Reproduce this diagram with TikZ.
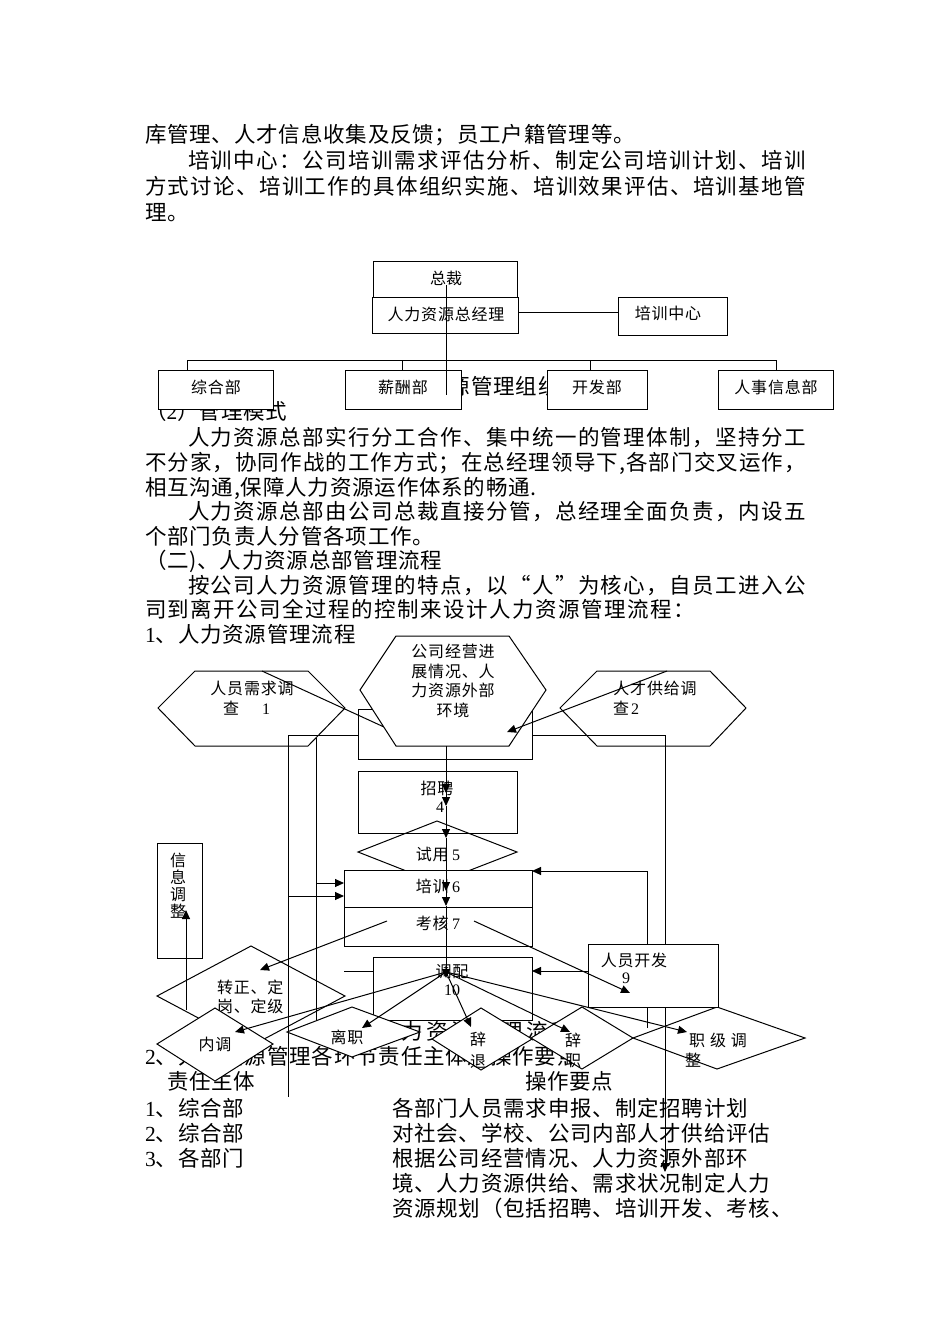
\documentclass[tikz,border=0pt]{standalone}
\usepackage{fontspec}
\setmainfont{Liberation Serif}
\newfontfamily\cjk{Noto Sans CJK SC}
\newfontfamily\lat{Liberation Serif}
\usetikzlibrary{arrows.meta}
\newcommand\cjkglue{\hskip0.8bp plus 1fil\relax}
\def\spacedi#1{#1\sploop}
\def\sploop#1{\ifx\relax#1\else\cjkglue#1\expandafter\sploop\fi}
\newcommand\spaced[1]{\spacedi#1\relax}
\newcommand\bodyf{\cjk\fontsize{21.5bp}{26bp}\selectfont}
\newcommand\smf{\cjk\fontsize{16bp}{20bp}\selectfont}
\newcommand\spreadto[2]{\makebox[#1][s]{#2}}
\begin{document}
\begin{tikzpicture}[x=1bp,y=-1bp,line width=1bp,
  bt/.style={anchor=base west,inner sep=0pt,outer sep=0pt,font=\bodyf},
  lb/.style={anchor=base,inner sep=0pt,outer sep=0pt,font=\smf},
  lbw/.style={anchor=base west,inner sep=0pt,outer sep=0pt,font=\smf},
  bx/.style={draw,line width=1bp,fill=white,inner sep=0pt,outer sep=0pt},
  shp/.style={draw,line width=1bp,fill=white,line join=miter},
  ln/.style={line width=1bp},
  ar/.style={line width=1bp,-{Triangle[length=9bp,width=8bp]}}]
\path[use as bounding box,fill=white] (0,0) rectangle (950,1344);

% ---------- body text ----------
\node[bt] (a1) at (145,143) {\spaced{库管理、人才信息收集及反馈；员工户籍管理等。}};
\node[bt] (a2) at (188,169) {\spreadto{618bp}{\spaced{培训中心：公司培训需求评估分析、制定公司培训计划、培训}}};
\node[bt] (a3) at (145,195) {\spreadto{661bp}{\spaced{方式讨论、培训工作的具体组织实施、培训效果评估、培训基地管}}};
\node[bt] (a4) at (145,221) {\spaced{理。}};
\node[bt] (a5) at (145,419) {（{\lat 2}）\spaced{管理模式}};
\node[bt] (a15) at (382,394) {\spaced{人力资源管理组织结构图}};
\node[bt] (a6) at (188,445) {\spreadto{618bp}{\spaced{人力资源总部实行分工合作、集中统一的管理体制，坚持分工}}};
\node[bt] (a7) at (145,470) {\spreadto{661bp}{\spaced{不分家，协同作战的工作方式；在总经理领导下,各部门交叉运作，}}};
\node[bt] (a8) at (145,495) {\spaced{相互沟通,保障人力资源运作体系的畅通.}};
\node[bt] (a9) at (188,519) {\spreadto{618bp}{\spaced{人力资源总部由公司总裁直接分管，总经理全面负责，内设五}}};
\node[bt] (a10) at (145,544) {\spaced{个部门负责人分管各项工作。}};
\node[bt] (a11) at (145,568) {\spaced{（二)、人力资源总部管理流程}};
\node[bt] (a12) at (188,593) {\spreadto{618bp}{\spaced{按公司人力资源管理的特点，以“人”为核心，自员工进入公}}};
\node[bt] (a13) at (145,617) {\spreadto{550bp}{\spaced{司到离开公司全过程的控制来设计人力资源管理流程：}}};
\node[bt] (a14) at (145,642) {{\lat 1}\spaced{、人力资源管理流程}};
\node[bt] (a16) at (376,1039) {\spreadto{222bp}{\spaced{人力资源管理流程图}}};
\node[bt] (a17) at (145,1064) {{\lat 2}\spaced{、人力资源管理各环节责任主体及操作要点}};
\node[bt] (a18) at (167,1089) {\spaced{责任主体}};
\node[bt] (a19) at (525,1089) {\spaced{操作要点}};
\node[bt] (a20) at (145,1116) {{\lat 1}\spaced{、综合部}};
\node[bt] (a21) at (392,1116) {\spaced{各部门人员需求申报、制定招聘计划}};
\node[bt] (a22) at (145,1141) {{\lat 2}\spaced{、综合部}};
\node[bt] (a23) at (392,1141) {\spaced{对社会、学校、公司内部人才供给评估}};
\node[bt] (a24) at (145,1166) {{\lat 3}\spaced{、各部门}};
\node[bt] (a25) at (392,1166) {\spaced{根据公司经营情况、人力资源外部环}};
\node[bt] (a26) at (392,1191) {\spaced{境、人力资源供给、需求状况制定人力}};
\node[bt] (a27) at (392,1216) {\spaced{资源规划（包括招聘、培训开发、考核、}};

% ---------- organisation chart ----------
\node[bx,minimum width=144bp,minimum height=36bp] (zc) at (445,279) {};
\node[bx,minimum width=146bp,minimum height=36bp] (hr) at (445,315) {};
\node[bx,minimum width=109bp,minimum height=38bp] (pxz) at (672.5,316) {};
\node[bx,minimum width=115bp,minimum height=39bp] (zh) at (215.5,389.5) {};
\node[bx,minimum width=116bp,minimum height=39bp] (xc) at (403,389.5) {};
\node[bx,minimum width=100bp,minimum height=39bp] (kf) at (597,389.5) {};
\node[bx,minimum width=115bp,minimum height=39bp] (rs) at (775.5,389.5) {};
\node[lb] (l1) at (446,284) {总裁};
\node[lb] (l2) at (446,320) {\spaced{人力资源总经理}};
\node[lb] (l3) at (668,319) {\spaced{培训中心}};
\node[lb] (l4) at (216,393) {\spaced{综合部}};
\node[lb] (l5) at (403,393) {\spaced{薪酬部}};
\node[lb] (l6) at (597,393) {\spaced{开发部}};
\node[lb] (l7) at (776,393) {\spaced{人事信息部}};
\coordinate (o1) at (446,285); \coordinate (o2) at (446,395);
\coordinate (o3) at (518,312); \coordinate (o4) at (618,312);
\coordinate (o5) at (187,360); \coordinate (o6) at (776,360);
\coordinate (o7) at (187,370); \coordinate (o8) at (402,360);
\coordinate (o9) at (402,370); \coordinate (o10) at (590,360);
\coordinate (o11) at (590,370); \coordinate (o12) at (776,370);
\draw[ln] (o1) -- (o2);
\draw[ln] (o3) -- (o4);
\draw[ln] (o5) -- (o6);
\draw[ln] (o5) -- (o7);
\draw[ln] (o8) -- (o9);
\draw[ln] (o10) -- (o11);
\draw[ln] (o6) -- (o12);

% ---------- flow chart: coordinates ----------
\coordinate (p316a) at (316,738); \coordinate (p316b) at (316,1024);
\coordinate (p288a) at (288,735); \coordinate (p288b) at (288,1097);
\coordinate (b3l) at (358,735); \coordinate (b3r) at (532,735);
\coordinate (p665a) at (665,735); \coordinate (p665b) at (665,1172);
\coordinate (p647a) at (647,1028); \coordinate (p647b) at (647,871);
\coordinate (pxr) at (532,871);
\coordinate (dl1) at (262,671); \coordinate (dl2) at (384,727);
\coordinate (dr1) at (667,671); \coordinate (dr2) at (507,732);

% transfer diamond (behind)
\draw[shp] (157,996) -- (251,946) -- (345,996) -- (251,1046) -- cycle;
\node[lbw] (t1) at (217,993) {\spaced{转正、定}};
\node[lbw] (t2) at (217,1012) {\spaced{岗、定级}};
% info box
\node[bx,minimum width=45bp,minimum height=115bp] (xx) at (179.5,900.5) {};
\node[lb] (t3) at (178,866) {信};
\node[lb] (t4) at (178,883) {息};
\node[lb] (t5) at (178,900) {调};
\node[lb] (t6) at (178,917) {整};
% feedback line under shapes
\draw[ar] (p647a) -- (p647b) -- (pxr);
% grade diamond
\draw[shp] (633,1038) -- (717,1007) -- (805,1038) -- (717,1069) -- cycle;
% hexagons
\draw[shp] (158,708) -- (195,671) -- (308,671) -- (345,708) -- (308,746) -- (195,746) -- cycle;
\node[lb] (t7) at (252,694) {\spaced{人员需求调}};
\node[lb] (t8) at (231,714) {查};
\node[lb] (t9) at (266,714) {\lat 1};
\draw[shp] (560,708) -- (597,671) -- (710,671) -- (746,708) -- (710,746) -- (597,746) -- cycle;
\node[lb] (t10) at (655,694) {\spaced{人才供给调}};
\node[lb] (t11) at (621,714) {查};
\node[lb] (t12) at (635,714) {\lat 2};
\node[bx,minimum width=174bp,minimum height=50bp] (b3) at (445,734) {};
\draw[ln] (dl1) -- (dl2);
\draw[shp] (360,690) -- (396,636) -- (509,636) -- (546,690) -- (509,746) -- (396,746) -- cycle;
\node[lb] (t13) at (453,657) {\spaced{公司经营进}};
\node[lb] (t14) at (453,677) {\spaced{展情况、人}};
\node[lb] (t15) at (453,696) {\spaced{力资源外部}};
\node[lb] (t16) at (453,716) {\spaced{环境}};
% long lines
\draw[ln] (p316a) -- (p316b);
\draw[ln] (p288a) -- (p288b);
\draw[ln] (p288a) -- (b3l);
\draw[ln] (b3r) -- (p665a);
\draw[ar] (p665a) -- (p665b);
% process boxes
\node[bx,minimum width=159bp,minimum height=62bp] (zp) at (437.5,802) {};
\node[lb] (t17) at (437,794) {\spaced{招聘}};
\node[lb] (t18) at (440,812) {\lat 4};
\draw[ln] (358,852) -- (437,821) -- (517,852) -- (437,883) -- cycle;
\node[lb] (t19) at (438,860) {\spaced{试用} {\lat 5}};
\node[bx,minimum width=188bp,minimum height=37bp] (pxb) at (438,888.5) {};
\node[bx,minimum width=188bp,minimum height=39bp] (khb) at (438,926.5) {};
\node[lb] (t20) at (438,892) {\spaced{培训} {\lat 6}};
\node[lb] (t21) at (438,929) {\spaced{考核} {\lat 7}};
\node[bx,minimum width=159bp,minimum height=63bp] (tp) at (452.5,988.5) {};
\node[lb] (t22) at (452,977) {\spaced{调配}};
\node[lb] (t23) at (452,995) {\lat 10};
\node[bx,minimum width=130bp,minimum height=63bp] (ry) at (653,975.5) {};
\node[lb] (t24) at (634,966) {\spaced{人员开发}};
\node[lb] (t25) at (626,983) {\lat 9};
% bottom diamonds
\draw[shp] (157,1044) -- (215,1008) -- (273,1044) -- (215,1081) -- cycle;
\node[lb] (t26) at (215,1050) {\spaced{内调}};
\draw[shp] (287,1032) -- (352,1007) -- (420,1032) -- (352,1057) -- cycle;
\node[lb] (t27) at (347,1043) {\spaced{离职}};
\draw[shp] (432,1039) -- (481,1008) -- (532,1039) -- (481,1070) -- cycle;
\node[lb] (t28) at (478,1045) {辞};
\node[lb] (t29) at (478,1067) {退};
\draw[shp] (531,1038) -- (582,1007) -- (633,1038) -- (582,1069) -- cycle;
\node[lb] (t30) at (573,1046) {辞};
\node[lb] (t31) at (573,1066) {职};
\node[lb] (t32) at (718,1046) {职\hspace{5bp}级\hspace{5bp}调};
\node[lb] (t33) at (693,1066) {整};

% ---------- arrows ----------
\coordinate (c1) at (316,883); \coordinate (c2) at (344,883);
\coordinate (c3) at (288,896); \coordinate (c4) at (344,896);
\coordinate (c5) at (344,971); \coordinate (c6) at (373,971);
\coordinate (c7) at (588,971); \coordinate (c8) at (532,971);
\coordinate (c9) at (387,921); \coordinate (c10) at (260,970);
\coordinate (c11) at (474,921); \coordinate (c12) at (630,993);
\coordinate (c13) at (186,1010); \coordinate (c14) at (186,910);
\draw[ar] (c1) -- (c2);
\draw[ar] (c3) -- (c4);
\draw[ln] (c5) -- (c6);
\draw[ar] (c7) -- (c8);
\draw[ar] (c9) -- (c10);
\draw[ar] (c11) -- (c12);
\draw[ar] (c13) -- (c14);
\draw[ar] (dr1) -- (dr2);
% central column
\coordinate (v0) at (446,746); \coordinate (v1) at (446,760);
\coordinate (v2) at (446,793); \coordinate (v3) at (446,806);
\coordinate (v4) at (446,838); \coordinate (v5) at (446,891);
\coordinate (v6) at (446,906); \coordinate (v7) at (446,978);
\draw[ar] (v0) -- (v2);
\draw[ar] (v1) -- (v3);
\draw[ar] (v3) -- (v4);
\draw[ar] (v4) -- (v5);
\draw[ar] (v5) -- (v6);
\draw[ar] (v6) -- (v7);
% fan from transfer
\coordinate (f0) at (446,972);
\coordinate (f1) at (235,1032); \coordinate (f2) at (362,1028);
\coordinate (f3) at (471,1027); \coordinate (f4) at (570,1032);
\coordinate (f5) at (687,1032);
\draw[ar] (f0) -- (f1);
\draw[ar] (f0) -- (f2);
\draw[ar] (f0) -- (f3);
\draw[ar] (f0) -- (f4);
\draw[ar] (f0) -- (f5);
\end{tikzpicture}
\end{document}
